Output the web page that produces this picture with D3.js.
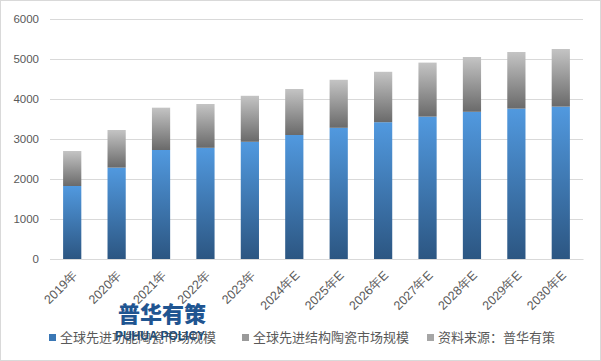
<!DOCTYPE html>
<html><head><meta charset="utf-8">
<script src="https://cdn.jsdelivr.net/npm/d3@7"></script>
<style>body{margin:0;background:#fff;}svg{display:block;font-family:"Microsoft YaHei","Noto Sans CJK SC",sans-serif;}</style>
</head><body>
<svg id="c" width="601" height="361"></svg>
<script>
const categories = ["2019年","2020年","2021年","2022年","2023年","2024年E","2025年E","2026年E","2027年E","2028年E","2029年E","2030年E"];
const functionalValues = [1825,2285,2725,2780,2930,3100,3280,3420,3560,3680,3760,3810];
const structuralValues = [875,940,1058,1095,1150,1150,1200,1260,1350,1370,1415,1440];
const yTicks = [0,1000,2000,3000,4000,5000,6000];
const seriesNames = ["全球先进功能陶瓷市场规模","全球先进结构陶瓷市场规模","资料来源：普华有策"];

const svg = d3.select("#c");
const defs = svg.append("defs");
function grad(id, top, bottom){
  const g = defs.append("linearGradient").attr("id",id).attr("x1",0).attr("y1",0).attr("x2",0).attr("y2",1);
  g.append("stop").attr("offset","0%").attr("stop-color",top);
  g.append("stop").attr("offset","100%").attr("stop-color",bottom);
}
grad("gBlue","#5199df","#2c5682");
grad("gGray","#c4c4c4","#6a6a6a");

svg.append("rect").attr("x",0.5).attr("y",0.5).attr("width",600).attr("height",360).attr("fill","#fff").attr("stroke","#d9d9d9");

const x = d3.scaleBand().domain(categories).range([50,583]).paddingInner(0.59).paddingOuter(0.295);
const y = d3.scaleLinear().domain([0,6000]).range([259,19]);

const yAxis = svg.append("g").attr("transform","translate(50,0)")
  .call(d3.axisLeft(y).tickValues(yTicks).tickSize(-533).tickPadding(11).tickFormat(d3.format("d")));
yAxis.select(".domain").remove();
yAxis.selectAll("line").attr("stroke","#d9d9d9");
yAxis.selectAll("text").attr("fill","#595959").style("font-size","11.5px").style("font-family","Arial, 'Liberation Sans', sans-serif");

const data = categories.map((c,i)=>({c, a:functionalValues[i], b:structuralValues[i]}));
svg.append("g").selectAll("rect").data(data).join("rect")
  .attr("x",d=>x(d.c)).attr("width",x.bandwidth())
  .attr("y",d=>y(d.a)).attr("height",d=>y(0)-y(d.a)).attr("fill","url(#gBlue)");
svg.append("g").selectAll("rect").data(data).join("rect")
  .attr("x",d=>x(d.c)).attr("width",x.bandwidth())
  .attr("y",d=>y(d.a+d.b)).attr("height",d=>y(d.a)-y(d.a+d.b)).attr("fill","url(#gGray)");

const xAxis = svg.append("g").attr("transform","translate(0,259)")
  .call(d3.axisBottom(x).tickSize(0).tickPadding(0));
xAxis.select(".domain").attr("stroke","#d9d9d9");
xAxis.selectAll("text").attr("fill","#595959").style("font-size","12.5px")
  .attr("text-anchor","end").attr("dy","0").attr("transform","translate(6,17) rotate(-45)");

// watermark
svg.append("text").attr("x",162).attr("y",322).attr("text-anchor","middle")
  .attr("fill","#1f5591").style("font-size","22px").style("font-weight","900").text("普华有策");

// legend
const legendX = [49,242,427];
const lg = svg.append("g");
seriesNames.forEach((n,i)=>{
  lg.append("rect").attr("x",legendX[i]).attr("y",334).attr("width",7).attr("height",7)
    .attr("fill", i===0 ? "#3a77b5" : (i===1 ? "#9a9a9a" : "#a6a6a6"));
  lg.append("text").attr("x",legendX[i]+11).attr("y",342).attr("fill","#595959")
    .style("font-size","13px").text(n);
});
svg.append("text").attr("x",160).attr("y",340).attr("text-anchor","middle")
  .attr("fill","#1f4e79").style("font-size","12px").style("font-weight","bold")
  .style("font-family","Arial, 'Liberation Sans', sans-serif").text("PUHUA POLICY");
</script>
</body></html>
